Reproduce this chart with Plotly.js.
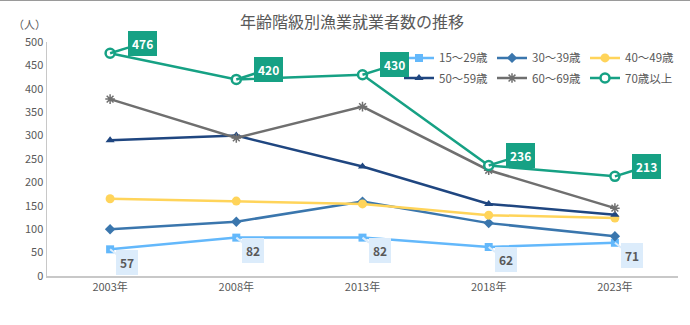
<!DOCTYPE html>
<html><head><meta charset="utf-8">
<script src="https://cdn.plot.ly/plotly-3.0.1.min.js"></script>
<style>html,body{margin:0;padding:0;background:#fff}#chart{width:690px;height:325px;border-top:1px solid #9a9a9a;box-sizing:border-box}</style>
</head><body><div id="chart"></div>
<script>
const years = ['2003年','2008年','2013年','2018年','2023年'];
const age15_29 = [57, 82, 82, 62, 71];
const age30_39 = [100, 116, 159, 113, 85];
const age40_49 = [165, 160, 154, 130, 124];
const age50_59 = [290, 300, 234, 154, 131];
const age60_69 = [378, 295, 362, 226, 145];
const age70plus = [476, 420, 430, 236, 213];
const seriesNames = ['15～29歳','30～39歳','40～49歳','50～59歳','60～69歳','70歳以上'];

const font = '"Noto Sans CJK JP", "Noto Sans", sans-serif';
const gray = '#595959';

function tr(name, y, color, symbol, size, legend) {
  return {
    type: 'scatter', mode: 'lines+markers', name: name, x: years, y: y, legend: legend,
    line: {color: color, width: 2.5},
    marker: {color: color, symbol: symbol, size: size}
  };
}
const data = [
  tr(seriesNames[0], age15_29, '#63b8fb', 'square', 8, 'legend'),
  tr(seriesNames[1], age30_39, '#3a76ad', 'diamond', 8, 'legend'),
  tr(seriesNames[2], age40_49, '#ffd45a', 'circle', 9, 'legend'),
  tr(seriesNames[3], age50_59, '#1f4680', 'triangle-up', 8, 'legend2'),
  tr(seriesNames[4], age60_69, '#6f6f6f', 'asterisk-open', 8, 'legend2'),
  tr(seriesNames[5], age70plus, '#16a184', 'circle', 8, 'legend2')
];
data[4].marker.line = {color: '#6f6f6f', width: 1.5};
data[5].marker = {color: '#ffffff', symbol: 'circle', size: 9, line: {color: '#16a184', width: 2.5}};

const annotations = [];
years.forEach((yr, i) => {
  annotations.push({
    x: yr, y: age70plus[i], text: '<b>' + age70plus[i] + '</b>',
    showarrow: true, arrowhead: 0, arrowwidth: 2.5, arrowcolor: '#16a184',
    ax: 32, ay: -10, bgcolor: '#16a184', bordercolor: '#16a184', borderpad: 3,
    font: {family: font, size: 12, color: '#ffffff'}
  });
  annotations.push({
    x: yr, y: age15_29[i], text: '<b>' + age15_29[i] + '</b>',
    showarrow: true, arrowhead: 0, arrowwidth: 2, arrowcolor: '#dcecfb',
    ax: 17, ay: 13, bgcolor: '#dcecfb', bordercolor: '#dcecfb', borderpad: 3,
    font: {family: font, size: 12, color: gray}
  });
});
annotations.push({
  xref: 'paper', yref: 'paper', x: -0.027, y: 1.077, xanchor: 'center', yanchor: 'middle',
  text: '（人）', showarrow: false, font: {family: font, size: 11, color: gray}
});

const legendBase = {
  orientation: 'h', xanchor: 'right', yanchor: 'middle',
  entrywidth: 48, entrywidthmode: 'pixels',
  font: {family: font, size: 11.5, color: gray}, bgcolor: 'rgba(0,0,0,0)', itemwidth: 30
};

const layout = {
  width: 690, height: 324,
  margin: {l: 47, r: 12, t: 41, b: 49},
  paper_bgcolor: '#ffffff', plot_bgcolor: '#ffffff',
  font: {family: font, color: gray},
  title: {text: '年齢階級別漁業就業者数の推移', x: 0.51, xanchor: 'center', y: 0.935, yanchor: 'middle',
          font: {family: font, size: 16, color: gray}},
  xaxis: {type: 'category', range: [-0.5, 4.5], showline: true, linecolor: '#c8c8c8', linewidth: 1.5,
          ticks: '', showgrid: false, zeroline: false, tickfont: {size: 11, color: gray, family: font}},
  yaxis: {range: [0, 500], dtick: 50, showline: true, linecolor: '#c8c8c8', linewidth: 1.5,
          ticks: '', showgrid: false, zeroline: false, tickfont: {size: 11, color: gray, family: font}},
  legend: Object.assign({x: 1.0, y: 0.932}, legendBase),
  legend2: Object.assign({x: 1.0, y: 0.846}, legendBase),
  annotations: annotations,
  showlegend: true
};
Plotly.newPlot('chart', data, layout, {displayModeBar: false, staticPlot: true});
</script></body></html>
